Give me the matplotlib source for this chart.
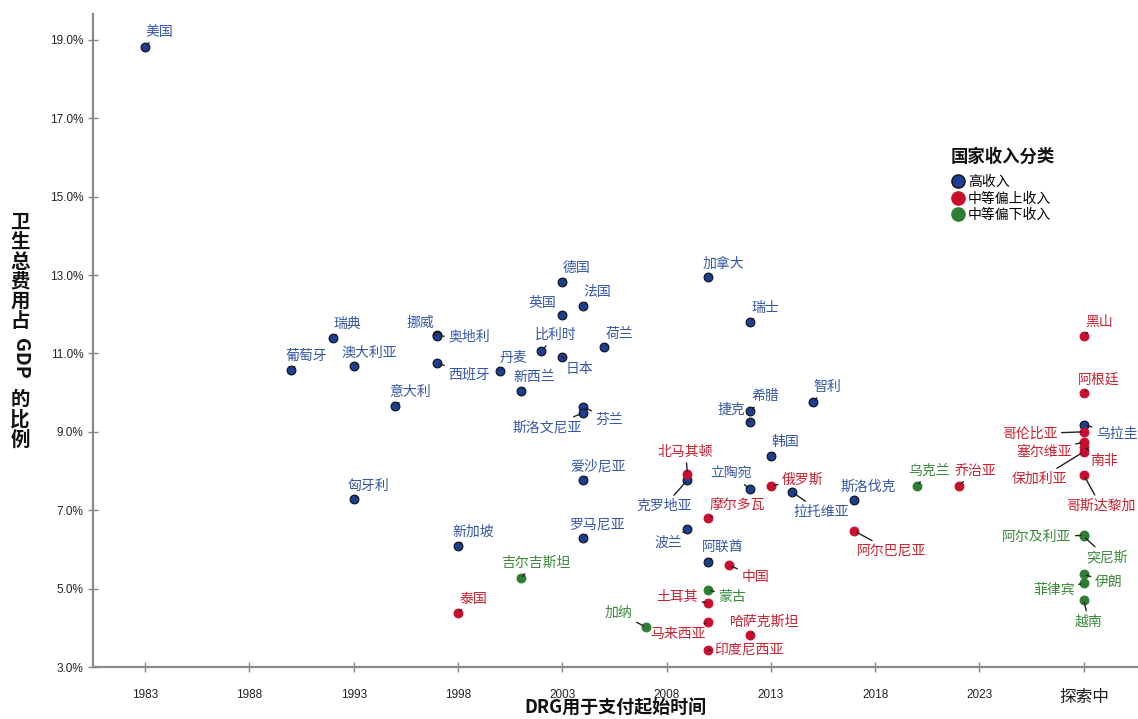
"""
DRG 起始时间 vs 卫生总费用占 GDP 比例
"""
import matplotlib
matplotlib.use("Agg")
import matplotlib.pyplot as plt
from matplotlib.lines import Line2D

plt.rcParams['font.family'] = ['Noto Sans CJK SC', 'DejaVu Sans']

# 数据：年份 2028 表示“探索中”
countries = ['美国', '葡萄牙', '瑞典', '澳大利亚', '意大利', '匈牙利', '挪威', '奥地利', '西班牙',
             '丹麦', '新西兰', '比利时', '日本', '英国', '德国', '法国', '荷兰', '加拿大', '瑞士',
             '希腊', '捷克', '芬兰', '斯洛文尼亚', '智利', '韩国', '爱沙尼亚', '北马其顿', '克罗地亚',
             '立陶宛', '俄罗斯', '拉托维亚', '斯洛伐克', '乌克兰', '乔治亚', '摩尔多瓦', '波兰',
             '阿尔巴尼亚', '罗马尼亚', '新加坡', '阿联酋', '中国', '吉尔吉斯坦', '蒙古', '土耳其',
             '泰国', '加纳', '马来西亚', '哈萨克斯坦', '印度尼西亚',
             '黑山', '阿根廷', '乌拉圭', '哥伦比亚', '塞尔维亚', '南非', '保加利亚', '哥斯达黎加',
             '阿尔及利亚', '突尼斯', '伊朗', '菲律宾', '越南']
years = [1983, 1990, 1992, 1993, 1995, 1993, 1997, 1997, 1997,
         2000, 2001, 2002, 2003, 2003, 2003, 2004, 2005, 2010, 2012,
         2012, 2012, 2004, 2004, 2015, 2013, 2004, 2009, 2009,
         2012, 2013, 2014, 2017, 2020, 2022, 2010, 2009,
         2017, 2004, 1998, 2010, 2011, 2001, 2010, 2010,
         1998, 2007, 2010, 2012, 2010,
         2028, 2028, 2028, 2028, 2028, 2028, 2028, 2028,
         2028, 2028, 2028, 2028, 2028]
values = [18.82, 10.58, 11.40, 10.68, 9.66, 7.29, 11.46, 11.44, 10.76,
          10.55, 10.04, 11.06, 10.91, 11.98, 12.82, 12.21, 11.17, 12.95, 11.80,
          9.52, 9.25, 9.64, 9.48, 9.76, 8.39, 7.77, 7.93, 7.77,
          7.54, 7.62, 7.47, 7.26, 7.62, 7.62, 6.80, 6.52,
          6.47, 6.29, 6.09, 5.68, 5.60, 5.27, 4.97, 4.63,
          4.38, 4.02, 4.15, 3.82, 3.43,
          11.45, 9.99, 9.18, 9.00, 8.74, 8.62, 8.49, 7.90,
          6.36, 6.33, 5.37, 5.14, 4.71]
groups = ['高', '高', '高', '高', '高', '高', '高', '高', '高',
          '高', '高', '高', '高', '高', '高', '高', '高', '高', '高',
          '高', '高', '高', '高', '高', '高', '高', '上', '高',
          '高', '上', '高', '高', '下', '上', '上', '高',
          '上', '高', '高', '高', '上', '下', '下', '上',
          '上', '下', '上', '上', '上',
          '上', '上', '高', '上', '上', '上', '上', '上',
          '下', '下', '下', '下', '下']

x_ticks = [1983, 1988, 1993, 1998, 2003, 2008, 2013, 2018, 2023, 2028]
x_ticklabels = ['1983', '1988', '1993', '1998', '2003', '2008', '2013', '2018', '2023', '探索中']
y_ticks = [3, 5, 7, 9, 11, 13, 15, 17, 19]

group_names = {'高': '高收入', '上': '中等偏上收入', '下': '中等偏下收入'}
marker_colors = {'高': '#1c3f94', '上': '#c8102e', '下': '#2f7d32'}
text_colors = {'高': '#3457aa', '上': '#c8202f', '下': '#3a8a3a'}

# 标签偏移（像素）
offsets = {
    '美国': (14, 15), '葡萄牙': (15, 14), '瑞典': (14, 14), '澳大利亚': (15, 13), '意大利': (15, 14),
    '匈牙利': (15, 13), '挪威': (-17, 12), '奥地利': (32, 0), '西班牙': (32, -12), '丹麦': (14, 13),
    '新西兰': (14, 14), '比利时': (14, 16), '日本': (17, -12), '英国': (-20, 12), '德国': (14, 14),
    '法国': (14, 14), '荷兰': (15, 13), '加拿大': (15, 13), '瑞士': (15, 14), '希腊': (15, 15),
    '捷克': (-19, 12), '芬兰': (26, -13), '斯洛文尼亚': (-36, -14), '智利': (15, 15), '韩国': (14, 14),
    '爱沙尼亚': (15, 14), '北马其顿': (-2, 22), '克罗地亚': (-23, -26), '立陶宛': (-19, 15),
    '俄罗斯': (32, 6), '拉托维亚': (29, -20), '斯洛伐克': (14, 13), '乌克兰': (12, 15),
    '乔治亚': (17, 15), '摩尔多瓦': (29, 12), '波兰': (-19, -14), '阿尔巴尼亚': (37, -20),
    '罗马尼亚': (15, 14), '新加坡': (15, 14), '阿联酋': (14, 14), '中国': (26, -12),
    '吉尔吉斯坦': (15, 15), '蒙古': (24, -7), '土耳其': (-31, 6), '泰国': (15, 14), '加纳': (-27, 14),
    '马来西亚': (-30, -12), '哈萨克斯坦': (15, 13), '印度尼西亚': (41, 0),
    '黑山': (15, 14), '阿根廷': (15, 13), '乌拉圭': (33, -9), '哥伦比亚': (-54, -2),
    '塞尔维亚': (-40, -10), '南非': (20, -14), '保加利亚': (-44, -27), '哥斯达黎加': (17, -31),
    '阿尔及利亚': (-47, -2), '突尼斯': (23, -21), '伊朗': (25, -9), '菲律宾': (-30, -7), '越南': (5, -22),
}

fig = plt.figure(figsize=(11.38, 7.19), dpi=100)
ax = fig.add_axes([93 / 1138, 1 - 667 / 719, 1 - 93 / 1138, (667 - 14) / 719])

for g in ['高', '上', '下']:
    xs = [x for x, gg in zip(years, groups) if gg == g]
    ys = [y for y, gg in zip(values, groups) if gg == g]
    edge = '#111111' if g == '高' else marker_colors[g]
    ax.scatter(xs, ys, s=40, color=marker_colors[g], edgecolors=edge, linewidths=0.8, zorder=3)

for name, x, y, g in zip(countries, years, values, groups):
    dx, dy = offsets[name]
    ax.annotate(name, xy=(x, y), xytext=(dx, dy), textcoords='offset pixels',
                ha='center', va='center', fontsize=10, color=text_colors[g],
                annotation_clip=False, zorder=4,
                arrowprops=dict(arrowstyle='-', color='#222222', lw=1.0, shrinkA=1, shrinkB=2))

ax.set_xlim(1980.5, 2030.6)
ax.set_ylim(3.0, 19.66)
ax.set_xticks(x_ticks)
ax.set_xticklabels(x_ticklabels, fontsize=8.5, family=['Liberation Sans', 'DejaVu Sans'])
ax.get_xticklabels()[-1].set_fontfamily(['Noto Sans CJK SC'])
ax.get_xticklabels()[-1].set_fontsize(12)
ax.set_yticks(y_ticks)
ax.set_yticklabels([f'{v:.1f}%' for v in y_ticks], fontsize=8.5, family=['Liberation Sans', 'DejaVu Sans'])
ax.tick_params(axis='both', direction='inout', length=7, width=1, color='#888888', labelcolor='#222222')
ax.tick_params(axis='x', pad=12)

for side in ['top', 'right']:
    ax.spines[side].set_visible(False)
for side in ['left', 'bottom']:
    ax.spines[side].set_color('#8a8a8a')
    ax.spines[side].set_linewidth(1.6)

# y 轴标题：竖排
fig.text(20 / 1138, 1 - 272 / 719, '\n'.join('卫生总费用占'), ha='center', va='center',
         fontsize=14, fontweight='bold', linespacing=1.05, color='#111111')
fig.text(20 / 1138, 1 - 358 / 719, 'GDP', ha='center', va='center', rotation=-90,
         fontsize=14, fontweight='bold', color='#111111')
fig.text(20 / 1138, 1 - 420 / 719, '\n'.join('的比例'), ha='center', va='center',
         fontsize=14, fontweight='bold', linespacing=1.05, color='#111111')

fig.text(615 / 1138, 1 - 708 / 719, 'DRG用于支付起始时间', ha='center', va='center',
         fontsize=13, fontweight='bold', color='#111111')

# 图例（标题单独放置）
fig.text(951 / 1138, 1 - 157 / 719, '国家收入分类', ha='left', va='center',
         fontsize=12.5, fontweight='bold', color='#111111')
handles = [Line2D([], [], marker='o', linestyle='', markersize=9.5,
                  markerfacecolor=marker_colors[g],
                  markeredgecolor='#111111' if g == '高' else marker_colors[g],
                  label=group_names[g]) for g in ['高', '上', '下']]
leg = fig.legend(handles=handles, loc='upper left',
                 bbox_to_anchor=(947 / 1138, 1 - 172 / 719), frameon=False,
                 fontsize=10, handletextpad=0.1, labelspacing=0.2, borderaxespad=0,
                 handlelength=1.2, borderpad=0.2)

fig.savefig('out.png', dpi=100)
